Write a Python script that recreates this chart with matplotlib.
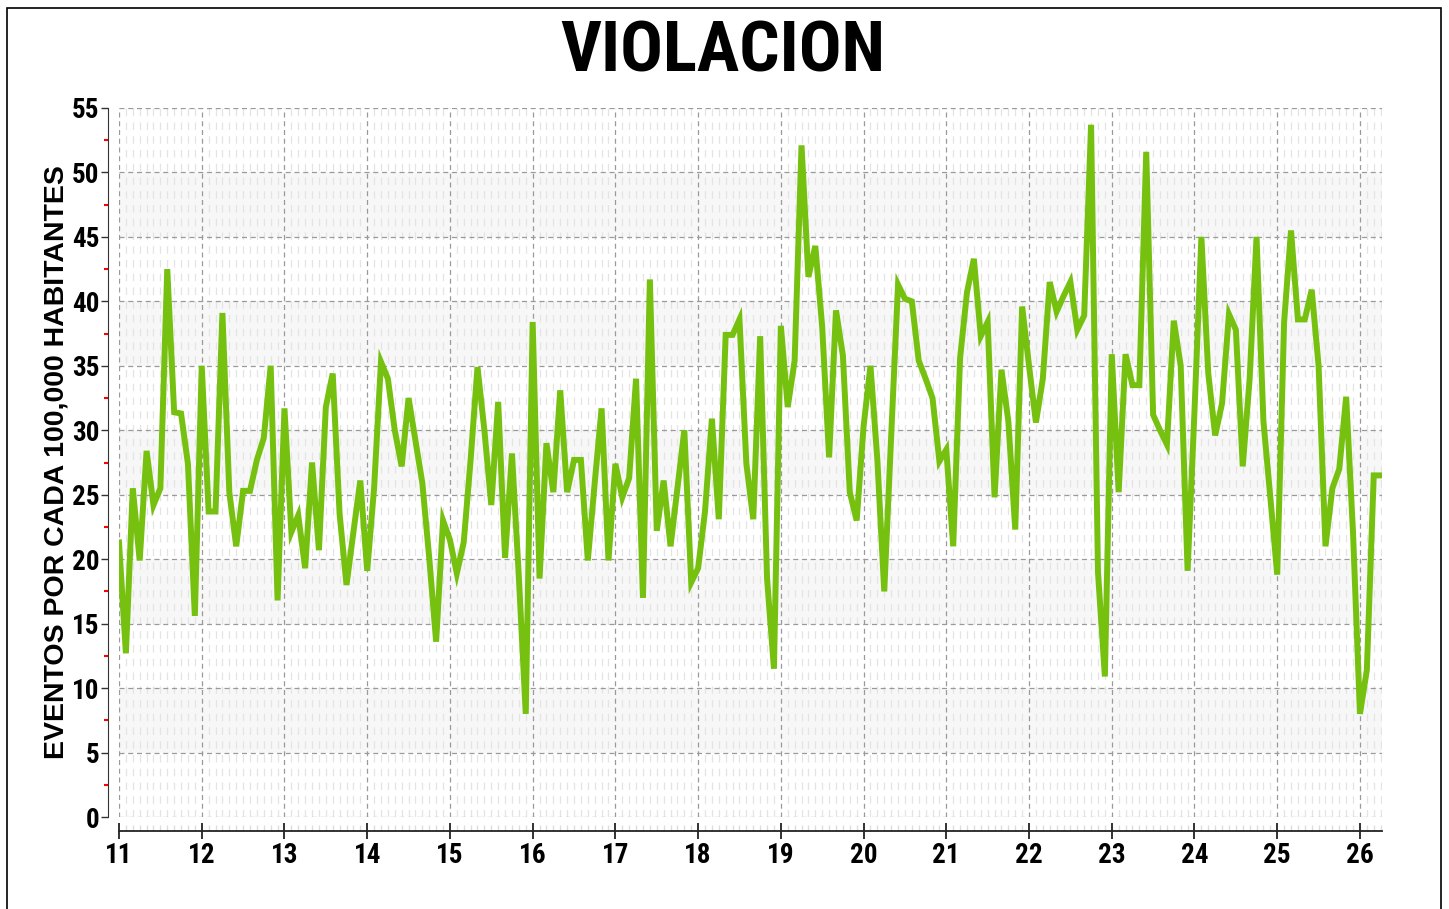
import matplotlib.pyplot as plt
import matplotlib.patches as patches
import numpy as np
from matplotlib.ticker import MultipleLocator

# monthly rate, Jan 2011 .. Apr 2026
rate_2011 = [21.3, 12.7, 25.5, 19.9, 28.4, 24.2, 25.5, 42.5, 31.4, 31.3, 27.4, 15.6]
rate_2012 = [35.0, 23.7, 23.7, 39.1, 25.2, 21.0, 25.3, 25.3, 27.7, 29.4, 35.0, 16.8]
rate_2013 = [31.7, 22.1, 23.4, 19.3, 27.5, 20.7, 31.8, 34.4, 23.5, 18.0, 22.1, 26.1]
rate_2014 = [19.1, 25.5, 35.3, 34.0, 30.0, 27.2, 32.5, 29.2, 25.9, 20.1, 13.6, 23.0]
rate_2015 = [21.5, 18.9, 21.3, 27.7, 34.9, 30.0, 24.2, 32.2, 20.1, 28.2, 18.6, 8.0]
rate_2016 = [38.4, 18.5, 29.0, 25.2, 33.1, 25.2, 27.7, 27.7, 19.9, 25.9, 31.7, 19.9]
rate_2017 = [27.4, 24.8, 26.3, 34.0, 17.0, 41.7, 22.2, 26.1, 21.0, 25.5, 30.0, 18.2]
rate_2018 = [19.3, 23.7, 30.9, 23.1, 37.4, 37.4, 38.6, 27.4, 23.1, 37.3, 18.5, 11.5]
rate_2019 = [38.1, 31.8, 35.4, 52.1, 41.9, 44.3, 38.0, 27.9, 39.3, 35.8, 25.2, 23.0]
rate_2020 = [30.3, 35.0, 27.7, 17.5, 29.5, 41.3, 40.2, 40.0, 35.4, 34.0, 32.5, 27.6]
rate_2021 = [28.5, 21.0, 35.6, 40.7, 43.3, 37.3, 38.4, 24.8, 34.7, 30.7, 22.3, 39.6]
rate_2022 = [35.0, 30.6, 34.0, 41.5, 39.2, 40.4, 41.5, 37.8, 38.9, 53.7, 19.0, 10.9]
rate_2023 = [35.9, 25.2, 35.9, 33.5, 33.5, 51.6, 31.2, 30.0, 28.9, 38.5, 35.0, 19.1]
rate_2024 = [31.5, 45.0, 34.4, 29.6, 32.1, 39.0, 37.8, 27.2, 34.0, 45.0, 30.7, 24.8]
rate_2025 = [18.8, 38.4, 45.5, 38.6, 38.6, 40.9, 35.0, 21.0, 25.5, 27.0, 32.6, 22.0]
rate_2026 = [8.0, 11.4, 26.5, 26.5]

years = list(range(11, 27))
rates = (rate_2011 + rate_2012 + rate_2013 + rate_2014 + rate_2015 + rate_2016
         + rate_2017 + rate_2018 + rate_2019 + rate_2020 + rate_2021 + rate_2022
         + rate_2023 + rate_2024 + rate_2025 + rate_2026)
t = 11 + np.arange(len(rates)) / 12.0

W, H = 1449, 909
fig = plt.figure(figsize=(W / 100, H / 100), dpi=100)
fig.patches.append(patches.Rectangle((7 / W, -0.01), 1434 / W, 1 - 8 / H + 0.01,
                                     transform=fig.transFigure, fill=False,
                                     edgecolor='black', linewidth=1.2))

ax = fig.add_axes([119 / W, 1 - 817 / H, (1382 - 119) / W, (817 - 108) / H])
ax.set_xlim(11, 11 + (1382 - 119) / 82.73)
ax.set_ylim(0, 55)

# alternating bands
for lo in range(5, 55, 10):
    ax.axhspan(lo, lo + 5, color='#f7f7f7', zorder=0, lw=0)

ax.set_xticks(years)
ax.xaxis.set_minor_locator(MultipleLocator(1 / 12))
ax.set_yticks(range(0, 56, 5))
ax.yaxis.set_minor_locator(MultipleLocator(2.5))

ax.grid(which='major', color='#9a9a9a', linestyle=(0, (4, 3)), linewidth=0.9)
ax.grid(which='minor', axis='x', color='#e4e4e4', linestyle=(0, (6, 5)), linewidth=0.9)

ax.plot(t, rates, color='#76c10f', linewidth=4.3, solid_joinstyle='miter', zorder=5)

for s in ['top', 'right']:
    ax.spines[s].set_visible(False)
ax.spines['left'].set_position(('outward', 8))
ax.spines['bottom'].set_position(('outward', 10))
ax.spines['left'].set_color('#333333')
ax.spines['bottom'].set_color('#222222')
ax.spines['bottom'].set_linewidth(1.3)

ax.tick_params(axis='y', which='major', direction='out', length=5, width=1, color='#333333', pad=1)
ax.tick_params(axis='y', which='minor', direction='out', length=3, width=1.5, color='red')
ax.tick_params(axis='x', which='major', direction='inout', length=12, width=1.3, color='#222222', pad=2)
ax.tick_params(axis='x', which='minor', direction='in', length=4, width=1, color='#dddddd')

tick_font = dict(family=['Liberation Sans Narrow', 'Roboto Condensed', 'DejaVu Sans'],
                 weight='bold', size=19.5)
ax.set_xticklabels([str(y) for y in years], **tick_font)
ax.set_yticklabels([str(v) for v in range(0, 56, 5)], **tick_font)

ax.set_ylabel('EVENTOS POR CADA 100,000 HABITANTES', family=['Liberation Sans', 'DejaVu Sans'],
              weight='bold', size=20.5)
ax.yaxis.set_label_coords(-0.039, 0.5)

fig.text(723 / W, 1 - 52 / H, 'VIOLACION', ha='center', va='center',
         family=['Liberation Sans Narrow', 'Roboto Condensed', 'DejaVu Sans'],
         weight='bold', size=51)

fig.savefig('out.png', dpi=100)
